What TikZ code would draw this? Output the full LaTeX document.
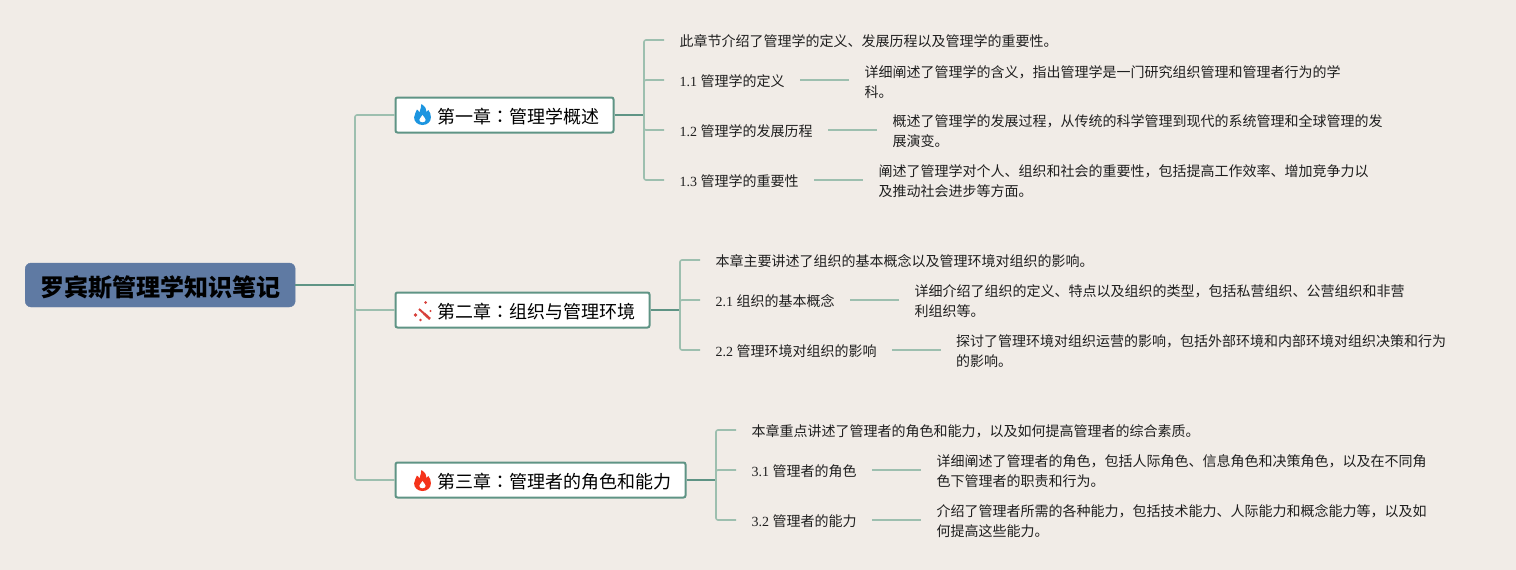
\documentclass[tikz,border=0pt]{standalone}
\usepackage{fontspec}
\setmainfont{Liberation Serif}
\newfontfamily\cjk{Noto Sans CJK SC}
\newfontfamily\cjktc{Noto Sans CJK TC}
\definecolor{bgc}{HTML}{F1ECE7}
\definecolor{rootc}{HTML}{5F7AA3}
\definecolor{darkl}{HTML}{5F9485}
\definecolor{lightl}{HTML}{9DBFAF}
\definecolor{blueflame}{HTML}{1C95E0}
\definecolor{redflame}{HTML}{F5331A}
\definecolor{wandc}{HTML}{D8403A}
\tikzset{
  rootbox/.style={fill=rootc,draw=rootc,rounded corners=6pt,minimum width=270pt,minimum height=44pt,inner sep=0pt,anchor=west,text height=24pt,text depth=2pt,font=\fontsize{24}{28}\selectfont\cjk\bfseries,text=black},
  chapbox/.style={fill=white,draw=darkl,line width=2pt,rounded corners=2pt,minimum height=35pt,inner xsep=14pt,inner ysep=0pt,anchor=west,text height=18pt,text depth=1.4pt,font=\fontsize{18}{22}\selectfont\cjk,text=black},
  leaf/.style={inner xsep=15.5pt,inner ysep=0pt,anchor=west,align=left,font=\fontsize{14}{20}\selectfont\cjk,text=black!88},
  single/.style={leaf,text height=15pt,text depth=1.8pt},
  trunk/.style={draw=darkl,line width=2pt},
  branch/.style={draw=lightl,line width=1.6pt,rounded corners=2pt},
}
\newcommand{\flameicon}[3]{%
  \begin{scope}[shift={(#1,#2)},xscale=1.12]
    \fill[#3] (0,10.5) .. controls (-4,10.5) and (-7.5,7.5) .. (-7.5,3)
      .. controls (-7.5,-0.5) and (-5.5,-2) .. (-5,-5) .. controls (-4,-4.5) and (-3.2,-3.2) .. (-2.8,-2)
      .. controls (-1.8,-4.5) and (-1.2,-8) .. (-1,-10.5) .. controls (2.5,-8) and (3.8,-5) .. (3.6,-2.5)
      .. controls (4.3,-3) and (4.8,-3.8) .. (5.2,-4.5) .. controls (6.8,-2.5) and (7.5,0) .. (7.5,3)
      .. controls (7.5,7.5) and (4,10.5) .. (0,10.5) -- cycle;
    \fill[white] (0,7.8) .. controls (-1.8,7.8) and (-2.8,6.6) .. (-2.8,5.4) .. controls (-2.8,3.6) and (-0.8,2.6) .. (0,0.5)
      .. controls (0.8,2.6) and (2.8,3.6) .. (2.8,5.4) .. controls (2.8,6.6) and (1.8,7.8) .. (0,7.8) -- cycle;
  \end{scope}}
\begin{document}
\begin{tikzpicture}[x=1pt,y=-1pt]
\useasboundingbox[fill=bgc] (0,0) rectangle (1516,570);
% root and trunk
\node[rootbox] (root) at (25,285) {罗宾斯管理学知识笔记};
\coordinate (tr) at (355,285);
% chapter boxes
\node[chapbox] (c1) at (394.5,115) {\hspace*{28pt}第一章{\cjktc ：}管理学概述};
\node[chapbox] (c2) at (394.5,310) {\hspace*{28pt}第二章{\cjktc ：}组织与管理环境};
\node[chapbox] (c3) at (394.5,480) {\hspace*{28pt}第三章{\cjktc ：}管理者的角色和能力};
\draw[trunk] (root.east) -- (tr);
\draw[branch] (tr) |- (c1.west);
\draw[branch] (tr) |- (c2.west);
\draw[branch] (tr) |- (c3.west);
% icons
\flameicon{422.5}{114.5}{blueflame}
\flameicon{422.5}{480.5}{redflame}
\begin{scope}[wandc]
  \draw[line width=2pt] (419,309) -- (424,313.5);
  \draw[line width=2.6pt] (424,313.5) -- (430,319);
  \fill (425.5,302.5) circle (1.5pt) (430.5,311) circle (1.1pt) (415.5,315) circle (1.8pt) (420.5,320) circle (1.3pt);
\end{scope}
% chapter 1
\coordinate (b1) at (644,115);
\node[single] (a0) at (664,40) {此章节介绍了管理学的定义、发展历程以及管理学的重要性。};
\node[single] (a1) at (664,80) {{\rmfamily 1.1 }管理学的定义};
\node[single] (a2) at (664,130) {{\rmfamily 1.2 }管理学的发展历程};
\node[single] (a3) at (664,180) {{\rmfamily 1.3 }管理学的重要性};
\node[leaf] (d1) at (849,82.3) {详细阐述了管理学的含义，指出管理学是一门研究组织管理和管理者行为的学\\科。};
\node[leaf] (d2) at (877,131.3) {概述了管理学的发展过程，从传统的科学管理到现代的系统管理和全球管理的发\\展演变。};
\node[leaf] (d3) at (863,181.3) {阐述了管理学对个人、组织和社会的重要性，包括提高工作效率、增加竞争力以\\及推动社会进步等方面。};
\draw[trunk] (c1.east) -- (b1);
\foreach \n in {a0,a1,a2,a3} \draw[branch] (b1) |- (\n.west);
\draw[branch] (a1.east) -- (a1.east -| d1.west);
\draw[branch] (a2.east) -- (a2.east -| d2.west);
\draw[branch] (a3.east) -- (a3.east -| d3.west);
% chapter 2
\coordinate (b2) at (680,310);
\node[single] (e0) at (700,260) {本章主要讲述了组织的基本概念以及管理环境对组织的影响。};
\node[single] (e1) at (700,300) {{\rmfamily 2.1 }组织的基本概念};
\node[single] (e2) at (700,350) {{\rmfamily 2.2 }管理环境对组织的影响};
\node[leaf] (f1) at (899,301.3) {详细介绍了组织的定义、特点以及组织的类型，包括私营组织、公营组织和非营\\利组织等。};
\node[leaf] (f2) at (940.5,351.3) {探讨了管理环境对组织运营的影响，包括外部环境和内部环境对组织决策和行为\\的影响。};
\draw[trunk] (c2.east) -- (b2);
\foreach \n in {e0,e1,e2} \draw[branch] (b2) |- (\n.west);
\draw[branch] (e1.east) -- (e1.east -| f1.west);
\draw[branch] (e2.east) -- (e2.east -| f2.west);
% chapter 3
\coordinate (b3) at (716,480);
\node[single] (g0) at (736,430) {本章重点讲述了管理者的角色和能力，以及如何提高管理者的综合素质。};
\node[single] (g1) at (736,470) {{\rmfamily 3.1 }管理者的角色};
\node[single] (g2) at (736,520) {{\rmfamily 3.2 }管理者的能力};
\node[leaf] (h1) at (921,471.3) {详细阐述了管理者的角色，包括人际角色、信息角色和决策角色，以及在不同角\\色下管理者的职责和行为。};
\node[leaf] (h2) at (921,521.3) {介绍了管理者所需的各种能力，包括技术能力、人际能力和概念能力等，以及如\\何提高这些能力。};
\draw[trunk] (c3.east) -- (b3);
\foreach \n in {g0,g1,g2} \draw[branch] (b3) |- (\n.west);
\draw[branch] (g1.east) -- (g1.east -| h1.west);
\draw[branch] (g2.east) -- (g2.east -| h2.west);
\end{tikzpicture}
\end{document}
